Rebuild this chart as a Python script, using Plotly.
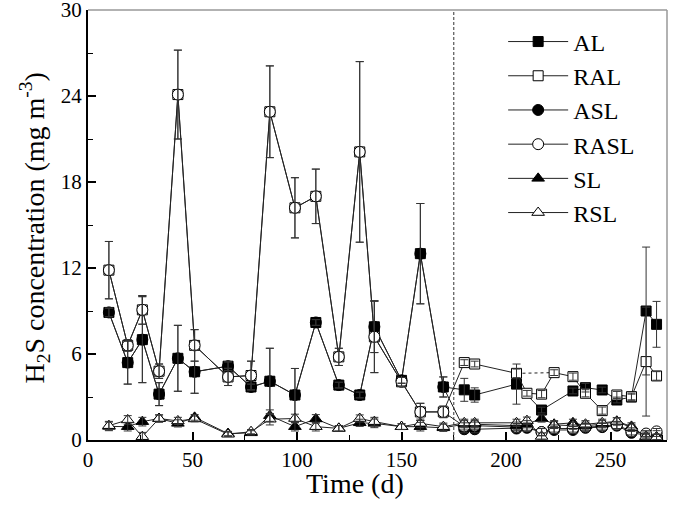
import plotly.graph_objects as go

# ---------------- data ----------------
days_phase1 = [10, 19, 26, 34, 43, 51, 67, 78, 87, 99, 109, 120, 130, 137, 150, 159, 170]
days_phase2 = [180, 185, 205, 210, 217, 223, 232, 238, 246, 253, 260, 267, 272]

# Phase 1 (identical for AL/ASL and RAL/RASL)
al_p1 = [8.9, 5.4, 7.0, 3.2, 5.7, 4.76, 5.15, 3.7, 4.1, 3.14, 8.2, 3.83, 3.14, 7.9, 4.16, 13.0, 3.7]
al_p1_err = [0.3, 1.5, 3.0, 0.8, 2.3, 1.5, 0.3, 0.2, 2.3, 1.85, 0.2, 0.2, 0.2, 1.8, 0.2, 3.5, 0.7]
ral_p1 = [11.85, 6.6, 9.08, 4.8, 24.1, 6.6, 4.4, 4.5, 22.9, 16.2, 17.0, 5.8, 20.1, 7.2, 4.06, 1.96, 1.96]
ral_p1_err = [2.0, 0.4, 1.0, 0.5, 3.1, 1.1, 0.6, 1.0, 3.2, 2.1, 1.9, 0.6, 6.3, 2.5, 0.3, 0.6, 0.4]
sl_p1 = [0.95, 0.93, 1.28, 1.5, 1.16, 1.58, 0.45, 0.5, 1.7, 0.93, 1.47, 0.81, 1.2, 1.16, 0.93, 0.93, 0.85]
rsl_p1 = [1.0, 1.4, 0.23, 1.5, 1.33, 1.47, 0.4, 0.58, 1.45, 1.5, 0.93, 0.81, 1.5, 1.28, 0.93, 1.16, 0.93]
low_p1_err = [0.3, 0.3, 0.3, 0.25, 0.25, 0.2, 0.15, 0.15, 0.4, 0.3, 0.3, 0.2, 0.25, 0.3, 0.2, 0.3, 0.25]

# Phase 2
al_p2 = [3.5, 3.14, 3.9, None, 2.09, None, 3.42, 3.65, 3.49, 2.79, 3.0, 9.0, 8.07]
al_p2_err = [0.8, 0.5, 1.4, None, 0.2, None, 0.2, 0.3, 0.2, 0.2, 0.2, 4.46, 1.6]
ral_p2 = [5.4, 5.3, 4.65, 3.26, 3.2, 4.7, 4.42, 3.26, 2.05, 3.14, 3.02, 5.47, 4.47]
ral_p2_err = [0.2, 0.2, 0.3, 0.2, 0.25, 0.2, 0.25, 0.25, 0.25, 0.25, 0.25, 3.8, 0.3]
asl_p2 = [0.75, 0.75, 0.8, 0.85, 0.55, 0.7, 0.7, 0.85, 0.9, 1.0, 0.5, 0.35, 0.45]
rasl_p2 = [0.95, 1.0, 0.9, 0.93, 0.55, 0.8, 0.8, 0.9, 0.95, 1.05, 0.6, 0.45, 0.6]
sl_p2 = [1.1, 1.1, 1.0, 1.1, 1.5, 1.1, 1.2, 1.0, 1.1, 1.3, 0.95, 0.2, 0.2]
rsl_p2 = [1.2, 1.2, 1.2, 1.35, 0.25, 1.05, 1.0, 1.1, 1.2, 1.3, 0.85, 0.25, 0.2]
low_p2_err = [0.25, 0.25, 0.25, 0.25, 0.25, 0.25, 0.25, 0.25, 0.25, 0.25, 0.25, 0.2, 0.2]

phase_change_day = 175
dashed_link = (2, 5)  # indices in phase-2 RAL joined by a dashed segment

series_names = ["AL", "RAL", "ASL", "RASL", "SL", "RSL"]
x_tick_vals = [0, 50, 100, 150, 200, 250]
y_tick_vals = [0, 6, 12, 18, 24, 30]
x_title = "Time (d)"
y_title = "H<sub>2</sub>S concentration (mg m<sup>-3</sup>)"

days = days_phase1 + days_phase2
values = {
    "AL": al_p1 + al_p2,
    "RAL": ral_p1 + ral_p2,
    "ASL": al_p1 + asl_p2,
    "RASL": ral_p1 + rasl_p2,
    "SL": sl_p1 + sl_p2,
    "RSL": rsl_p1 + rsl_p2,
}
errors = {
    "AL": al_p1_err + al_p2_err,
    "RAL": ral_p1_err + ral_p2_err,
    "ASL": al_p1_err + low_p2_err,
    "RASL": ral_p1_err + low_p2_err,
    "SL": low_p1_err + low_p2_err,
    "RSL": low_p1_err + low_p2_err,
}
symbols = {
    "AL": ("square", "black"),
    "RAL": ("square", "white"),
    "ASL": ("circle", "black"),
    "RASL": ("circle", "white"),
    "SL": ("triangle-up", "black"),
    "RSL": ("triangle-up", "white"),
}
sizes = {"AL": 10, "RAL": 10, "ASL": 11, "RASL": 11, "SL": 11, "RSL": 11}

FONT = "Liberation Serif"
LINE = "#222222"

fig = go.Figure()

# dashed RAL link
i0, i1 = dashed_link
n1 = len(days_phase1)
fig.add_trace(go.Scatter(
    x=[days[n1 + i0], days[n1 + i1]], y=[values["RAL"][n1 + i0], values["RAL"][n1 + i1]],
    mode="lines", line=dict(color=LINE, width=1, dash="3px,3px"), showlegend=False,
    hoverinfo="skip"))

for k, name in enumerate(series_names):
    sym, fill = symbols[name]
    fig.add_trace(go.Scatter(
        x=days, y=values[name], name=name, mode="lines+markers",
        connectgaps=True, legendgroup=name, legendrank=k,
        line=dict(color=LINE, width=1),
        marker=dict(symbol=sym, size=sizes[name], color=fill,
                    line=dict(color="black", width=1)),
    ))

# error bars drawn on top (separate, no legend)
for name in series_names:
    xs = [d for d, v in zip(days, values[name]) if v is not None]
    ys = [v for v in values[name] if v is not None]
    es = [e for v, e in zip(values[name], errors[name]) if v is not None]
    fig.add_trace(go.Scatter(
        x=xs, y=ys, mode="markers", marker=dict(size=1, opacity=0),
        error_y=dict(type="data", array=es, visible=True, color="#333333",
                     thickness=1, width=4),
        showlegend=False, hoverinfo="skip"))

fig.add_shape(type="line", xref="x", yref="paper", x0=phase_change_day, x1=phase_change_day,
              y0=0, y1=1, line=dict(color="#333333", width=1, dash="3px,2px"))
# top and right frame (grey)
fig.add_shape(type="line", xref="paper", yref="paper", x0=0, x1=1, y0=1, y1=1,
              line=dict(color="#999999", width=1.5))
fig.add_shape(type="line", xref="paper", yref="paper", x0=1, x1=1, y0=0, y1=1,
              line=dict(color="#999999", width=1.5))

# axis titles as annotations (positioned as in the reference)
fig.add_annotation(text=x_title, xref="paper", yref="paper", x=0.461, y=-0.1,
                   xanchor="center", yanchor="middle", showarrow=False,
                   font=dict(family=FONT, size=28, color="black"))
fig.add_annotation(text=y_title, xref="paper", yref="paper", x=-0.0915, y=0.494,
                   xanchor="center", yanchor="middle", showarrow=False, textangle=-90,
                   font=dict(family=FONT, size=28, color="black"))

fig.update_layout(
    width=675, height=517,
    margin=dict(l=88, r=8, t=10, b=77),
    paper_bgcolor="white", plot_bgcolor="white",
    font=dict(family=FONT, color="black", size=20),
    legend=dict(x=0.717, y=0.978, xanchor="left", yanchor="top",
                font=dict(family=FONT, size=24, color="black"),
                bgcolor="rgba(0,0,0,0)", itemwidth=60,
                traceorder="grouped", tracegroupgap=0),
    xaxis=dict(range=[0, 277], tickvals=x_tick_vals,
               ticks="inside", ticklen=8, tickwidth=1.5, tickcolor="black",
               minor=dict(ticks="inside", ticklen=5, tickwidth=1, dtick=25, tick0=0,
                          tickcolor="black"),
               showline=True, linecolor="black", linewidth=2, showgrid=False,
               zeroline=False, tickfont=dict(size=21), automargin=False,
               ticklabeloverflow="allow"),
    yaxis=dict(range=[0, 30], tickvals=y_tick_vals,
               ticks="inside", ticklen=8, tickwidth=1.5, tickcolor="black",
               minor=dict(ticks="inside", ticklen=5, tickwidth=1, dtick=3, tick0=0,
                          tickcolor="black"),
               showline=True, linecolor="black", linewidth=2, showgrid=False,
               zeroline=False, tickfont=dict(size=21), automargin=False,
               ticklabeloverflow="allow"),
)

fig.write_html("out.html", config={"displayModeBar": False},
               post_script="document.body.style.margin='0';")
